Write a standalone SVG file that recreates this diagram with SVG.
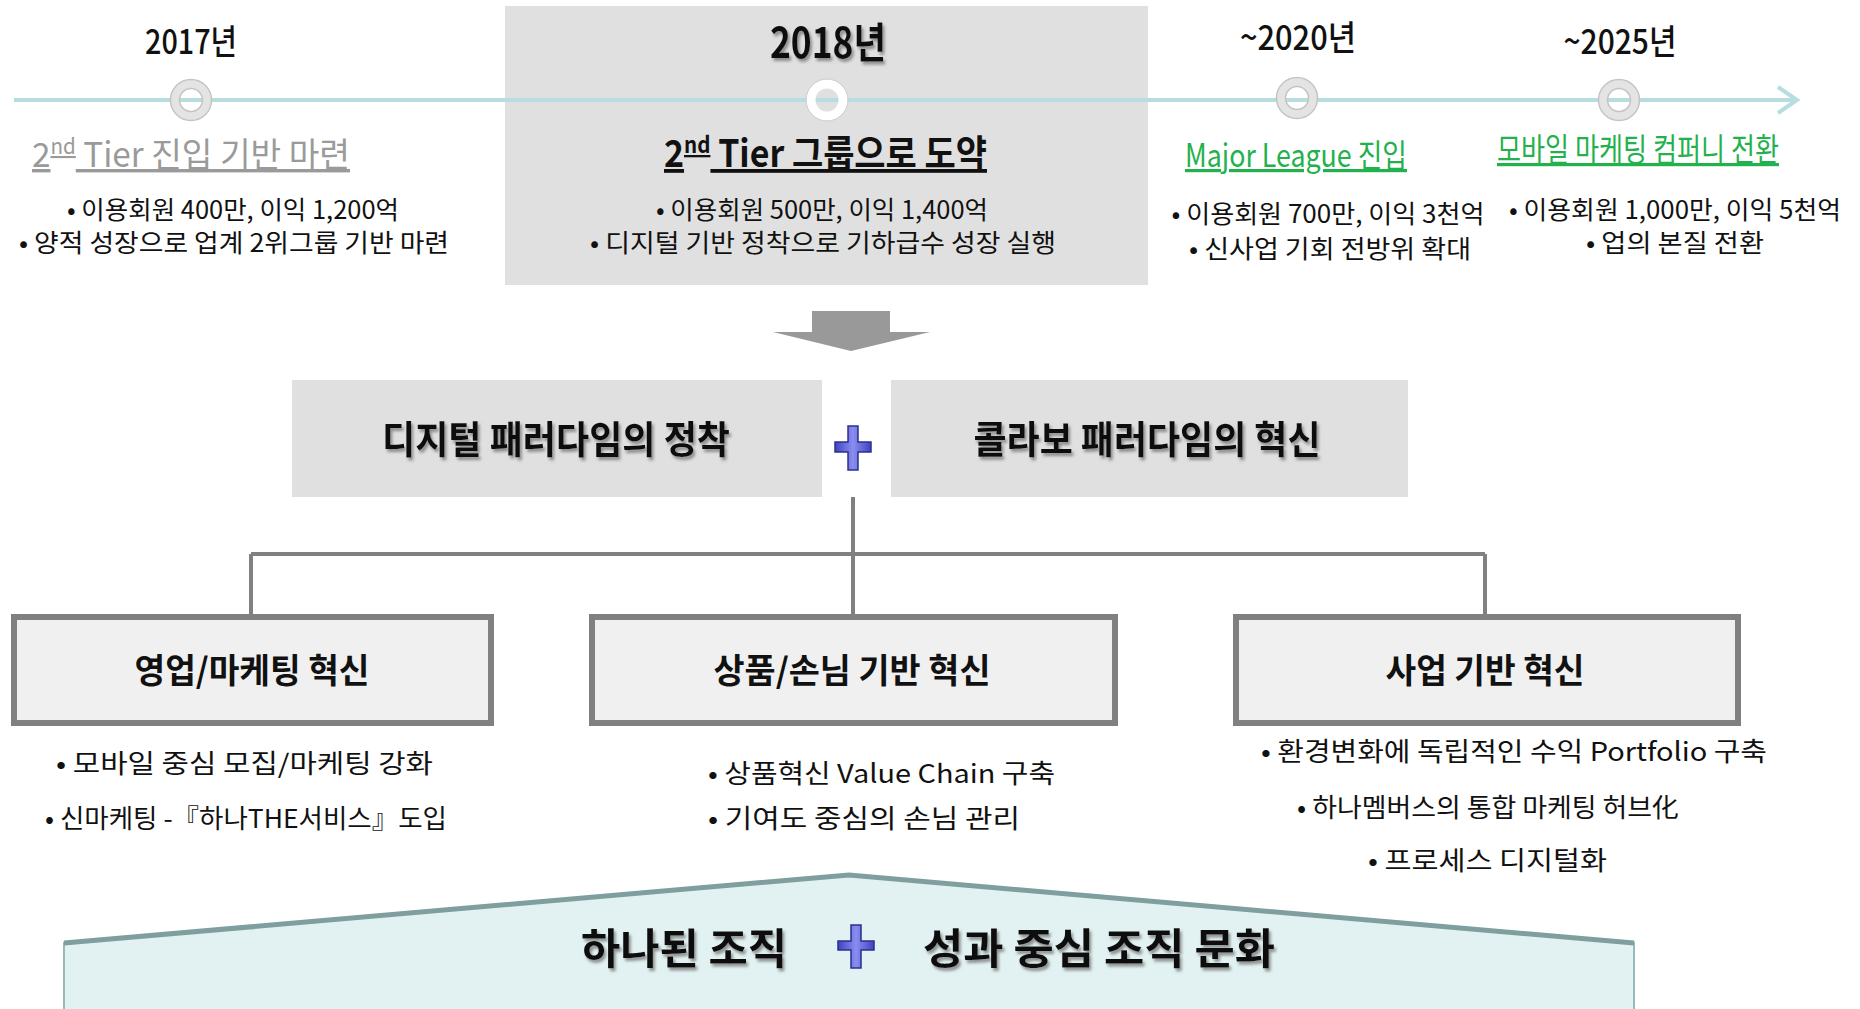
<svg xmlns="http://www.w3.org/2000/svg" width="1860" height="1009" viewBox="0 0 1860 1009">
<defs>
<style>
text{font-family:"Noto Sans CJK KR","Noto Sans",sans-serif;fill:#111}
.yr{font-size:34px;font-weight:500;text-anchor:middle}
.yrb{font-size:42px;font-weight:700;text-anchor:middle}
.bl{font-size:25px;text-anchor:middle}
.pd{font-size:38px;font-weight:700;text-anchor:middle}
.bt{font-size:34px;font-weight:700;text-anchor:middle}
.bb{font-size:26px}
.hs{font-size:42px;font-weight:700;text-anchor:middle}
.ring{fill:none;stroke:#e4e4e4;stroke-width:8}
.ringo{fill:none;stroke:#c4c4c4;stroke-width:1.5}
.conn{stroke:#808080;stroke-width:4;fill:none}
.box{fill:#f0f0f0;stroke:#808080;stroke-width:6}
.pbox{fill:#e0e0e0}
.plus{stroke:#2c2f8f;stroke-width:1.5}
</style>
<filter id="sh" x="-10%" y="-20%" width="130%" height="150%">
<feDropShadow dx="2" dy="3" stdDeviation="1.5" flood-color="#777" flood-opacity="0.8"/>
</filter>
<linearGradient id="pg" x1="0" y1="0" x2="1" y2="0">
<stop offset="0" stop-color="#3e43c0"/><stop offset="0.5" stop-color="#8a8ef0"/><stop offset="1" stop-color="#3e43c0"/>
</linearGradient>
</defs>

<!-- 2018 highlight panel -->
<rect id="panel2018" x="505" y="6" width="643" height="279" fill="#e0e0e0"/>

<!-- timeline -->
<g id="timeline">
<line x1="14" y1="100" x2="1797" y2="100" stroke="#b8dde0" stroke-width="4"/>
<polyline points="1778,87 1797,100 1778,113" fill="none" stroke="#b8dde0" stroke-width="4"/>
</g>

<g id="t2017">
<circle cx="191" cy="100" r="16" class="ring"/>
<circle cx="191" cy="100" r="20.5" class="ringo"/><circle cx="191" cy="100" r="11.5" class="ringo"/>
<text class="yr" x="191" y="54" textLength="92" lengthAdjust="spacingAndGlyphs">2017년</text>
<text x="32" y="167" style="font-size:34px;text-decoration:underline;fill:#9a9a9a" textLength="318" lengthAdjust="spacingAndGlyphs">2<tspan style="font-size:21px;fill:#9a9a9a" dy="-13">nd</tspan><tspan dy="13" style="fill:#9a9a9a"> Tier 진입 기반 마련</tspan></text>
<text class="bl" x="233" y="219" textLength="332" lengthAdjust="spacingAndGlyphs">• 이용회원 400만, 이익 1,200억</text>
<text class="bl" x="234" y="252" textLength="430" lengthAdjust="spacingAndGlyphs">• 양적 성장으로 업계 2위그룹 기반 마련</text>
</g>

<g id="t2018">
<circle cx="827" cy="100" r="16" fill="none" stroke="#ffffff" stroke-width="9"/>
<circle cx="827" cy="100" r="21" fill="none" stroke="#d0d0d0" stroke-width="1"/>
<text class="yrb" x="828" y="58" filter="url(#sh)" textLength="116" lengthAdjust="spacingAndGlyphs">2018년</text>
<text x="664" y="167" style="font-size:38px;font-weight:700;text-decoration:underline" textLength="323" lengthAdjust="spacingAndGlyphs">2<tspan style="font-size:23px;font-weight:700" dy="-14">nd</tspan><tspan dy="14"> Tier 그룹으로 도약</tspan></text>
<text class="bl" x="822" y="219" textLength="332" lengthAdjust="spacingAndGlyphs">• 이용회원 500만, 이익 1,400억</text>
<text class="bl" x="823" y="252" textLength="466" lengthAdjust="spacingAndGlyphs">• 디지털 기반 정착으로 기하급수 성장 실행</text>
</g>

<g id="t2020">
<circle cx="1297" cy="98" r="16" class="ring"/>
<circle cx="1297" cy="98" r="20.5" class="ringo"/><circle cx="1297" cy="98" r="11.5" class="ringo"/>
<text class="yr" x="1298" y="50" textLength="116" lengthAdjust="spacingAndGlyphs">~2020년</text>
<text x="1296" y="167" style="font-size:32px;text-decoration:underline;fill:#22b14c;text-anchor:middle" textLength="222" lengthAdjust="spacingAndGlyphs">Major League 진입</text>
<text class="bl" x="1328" y="223" textLength="313" lengthAdjust="spacingAndGlyphs">• 이용회원 700만, 이익 3천억</text>
<text class="bl" x="1330" y="258" textLength="282" lengthAdjust="spacingAndGlyphs">• 신사업 기회 전방위 확대</text>
</g>

<g id="t2025">
<circle cx="1619" cy="100" r="16" class="ring"/>
<circle cx="1619" cy="100" r="20.5" class="ringo"/><circle cx="1619" cy="100" r="11.5" class="ringo"/>
<text class="yr" x="1620" y="54" textLength="113" lengthAdjust="spacingAndGlyphs">~2025년</text>
<text x="1638" y="161" style="font-size:32px;text-decoration:underline;fill:#22b14c;text-anchor:middle" textLength="282" lengthAdjust="spacingAndGlyphs">모바일 마케팅 컴퍼니 전환</text>
<text class="bl" x="1675" y="219" textLength="332" lengthAdjust="spacingAndGlyphs">• 이용회원 1,000만, 이익 5천억</text>
<text class="bl" x="1675" y="252" textLength="178" lengthAdjust="spacingAndGlyphs">• 업의 본질 전환</text>
</g>

<!-- big down arrow -->
<g id="down-arrow">
<polygon points="812,311 890,311 890,332 930,332 851,351 773,332 812,332" fill="#999999"/>
</g>

<g id="connectors">
<line class="conn" x1="853" y1="497" x2="853" y2="614"/>
<line class="conn" x1="251" y1="554" x2="1485" y2="554"/>
<line class="conn" x1="251" y1="554" x2="251" y2="614"/>
<line class="conn" x1="1485" y1="554" x2="1485" y2="614"/>
</g>

<g id="paradigm-digital">
<rect class="pbox" x="292" y="380" width="530" height="117"/>
<text class="pd" x="556" y="453" filter="url(#sh)" textLength="348" lengthAdjust="spacingAndGlyphs">디지털 패러다임의 정착</text>
</g>
<g id="plus1">
<path class="plus" d="M848,426 h10 v16 h13 v10 h-13 v18 h-10 v-18 h-13 v-10 h13 z" style="fill:url(#pg)"/>
</g>
<g id="paradigm-collab">
<rect class="pbox" x="891" y="380" width="517" height="117"/>
<text class="pd" x="1147" y="453" filter="url(#sh)" textLength="347" lengthAdjust="spacingAndGlyphs">콜라보 패러다임의 혁신</text>
</g>

<g id="sales-marketing">
<rect class="box" x="14" y="617" width="477" height="106"/>
<text class="bt" x="252" y="683" textLength="235" lengthAdjust="spacingAndGlyphs">영업/마케팅 혁신</text>
<text class="bb" x="56" y="773" textLength="377" lengthAdjust="spacingAndGlyphs">• 모바일 중심 모집/마케팅 강화</text>
<text class="bb" x="45" y="828" textLength="402" lengthAdjust="spacingAndGlyphs">• 신마케팅 -『하나THE서비스』도입</text>
</g>

<g id="product-customer">
<rect class="box" x="592" y="617" width="523" height="106"/>
<text class="bt" x="852" y="683" textLength="277" lengthAdjust="spacingAndGlyphs">상품/손님 기반 혁신</text>
<text class="bb" x="708" y="783" textLength="347" lengthAdjust="spacingAndGlyphs">• 상품혁신 Value Chain 구축</text>
<text class="bb" x="708" y="828" textLength="312" lengthAdjust="spacingAndGlyphs">• 기여도 중심의 손님 관리</text>
</g>

<g id="business-base">
<rect class="box" x="1236" y="617" width="502" height="106"/>
<text class="bt" x="1485" y="683" textLength="199" lengthAdjust="spacingAndGlyphs">사업 기반 혁신</text>
<text class="bb" x="1261" y="761" textLength="506" lengthAdjust="spacingAndGlyphs">• 환경변화에 독립적인 수익 Portfolio 구축</text>
<text class="bb" x="1297" y="817" textLength="382" lengthAdjust="spacingAndGlyphs">• 하나멤버스의 통합 마케팅 허브化</text>
<text class="bb" x="1368" y="870" textLength="239" lengthAdjust="spacingAndGlyphs">• 프로세스 디지털화</text>
</g>

<g id="house">
<path d="M64,1012 V943 L849,875 L1634,943 V1012 Z" fill="#e2f2f2" stroke="#9ab9b9" stroke-width="2"/>
<polyline points="64,943 849,875 1634,943" fill="none" stroke="#7f9f9f" stroke-width="5"/>
<text class="hs" x="684" y="964" filter="url(#sh)" textLength="206" lengthAdjust="spacingAndGlyphs">하나된 조직</text>
<path class="plus" d="M851,925 h10 v16 h13 v9 h-13 v18 h-10 v-18 h-13 v-9 h13 z" style="fill:url(#pg)"/>
<text class="hs" x="1099" y="964" filter="url(#sh)" textLength="352" lengthAdjust="spacingAndGlyphs">성과 중심 조직 문화</text>
</g>
</svg>
